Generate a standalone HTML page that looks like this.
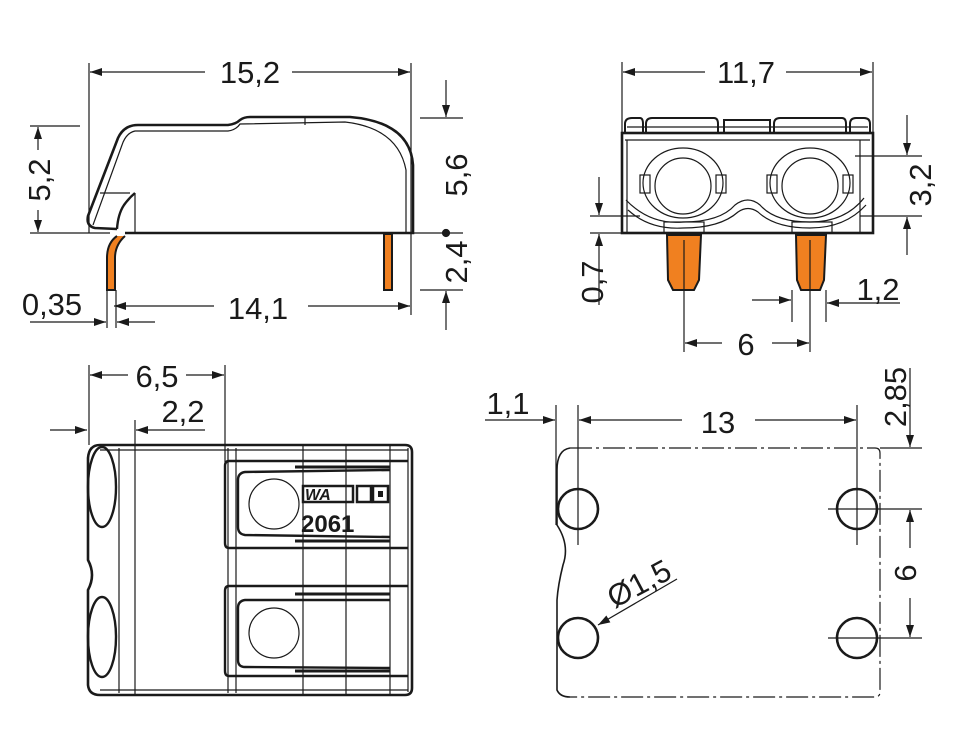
<!DOCTYPE html>
<html><head><meta charset="utf-8"><style>
html,body{margin:0;padding:0;background:#fff;}
svg{display:block}
text{font-family:"Liberation Sans",sans-serif;font-size:31px;fill:#1a1a1a}
</style></head><body>
<svg width="960" height="748" viewBox="0 0 960 748" xmlns="http://www.w3.org/2000/svg">
<defs>
<marker id="a" viewBox="0 0 12 8" refX="12" refY="4" markerWidth="13" markerHeight="8" markerUnits="userSpaceOnUse" orient="auto"><path d="M0,0 L12,4 L0,8z" fill="#1a1a1a"/></marker>
</defs>
<g stroke="#1a1a1a" stroke-width="1.2" fill="none">
<!-- ===== Top-left side view ===== -->
<line x1="89" y1="63" x2="89" y2="233"/><line x1="411" y1="63" x2="411" y2="315"/>
<line x1="205" y1="72" x2="90" y2="72" marker-end="url(#a)"/><line x1="292" y1="72" x2="410" y2="72" marker-end="url(#a)"/>
<line x1="30" y1="126" x2="80" y2="126"/><line x1="30" y1="233" x2="110" y2="233"/>
<line x1="38" y1="150" x2="38" y2="127" marker-end="url(#a)"/><line x1="38" y1="210" x2="38" y2="232" marker-end="url(#a)"/>
<line x1="420" y1="118" x2="463" y2="118"/><line x1="420" y1="290" x2="463" y2="290"/>
<line x1="446" y1="80" x2="446" y2="117" marker-end="url(#a)"/><line x1="446" y1="330" x2="446" y2="291" marker-end="url(#a)"/>
<line x1="413" y1="233" x2="463" y2="233"/>
<line x1="214" y1="306" x2="114" y2="306" marker-end="url(#a)"/><line x1="308" y1="306" x2="410" y2="306" marker-end="url(#a)"/>
<line x1="107" y1="290" x2="107" y2="328"/><line x1="116" y1="290" x2="116" y2="328"/>
<line x1="30" y1="322" x2="106" y2="322" marker-end="url(#a)"/><line x1="155" y1="322" x2="117" y2="322" marker-end="url(#a)"/>
<path d="M117,229 L95,228 Q86,226 88,216 L118,138 Q124,125 138,125 L228,125 Q236,124 240,120 Q244,117 250,117 L350,117 Q410,122 413,165 L413,233 L125,233" stroke-width="2.6"/>
<path d="M117,229 Q118,214 124,205 Q129,198 135,193" stroke-width="2.4"/>
<line x1="135" y1="193" x2="135" y2="233"/>
<path d="M93,225 L122,145 Q126,133 135,131 L228,131 Q236,130 240,124 L345,122 Q398,128 406,170 L406,232"/>
<line x1="100" y1="193" x2="130" y2="193"/>
<line x1="305" y1="118" x2="305" y2="125"/>
<path d="M117,236 Q107,243 107,258 L107,290 L115,290 L115,258 Q115,245 125,236" fill="#f08020" stroke-width="2"/>
<rect x="384" y="234" width="8" height="56" fill="#f08020" stroke-width="2"/>
<circle cx="446" cy="233" r="3.5" fill="#1a1a1a"/>

<!-- ===== Top-right front view ===== -->
<line x1="622" y1="62" x2="622" y2="133"/><line x1="873" y1="62" x2="873" y2="133"/>
<line x1="705" y1="72" x2="623" y2="72" marker-end="url(#a)"/><line x1="786" y1="72" x2="872" y2="72" marker-end="url(#a)"/>
<rect x="622" y="133" width="251" height="100" stroke-width="2.6"/>
<path d="M625,133 L625,124 Q625,118 632,118 L640,118 Q643,118 643,124 L643,133" stroke-width="2"/>
<path d="M646,133 L646,124 Q646,118 652,118 L714,118 Q718,118 718,124 L718,133" stroke-width="2"/>
<path d="M724,133 L724,120 L770,120 L770,133" stroke-width="2"/>
<path d="M774,133 L774,124 Q774,118 780,118 L842,118 Q846,118 846,124 L846,133" stroke-width="2"/>
<path d="M850,133 L850,124 Q850,118 856,118 L864,118 Q870,118 870,124 L870,133" stroke-width="2"/>
<line x1="627" y1="127" x2="868" y2="127"/>
<line x1="625" y1="140" x2="870" y2="140"/>
<line x1="627" y1="140" x2="627" y2="233"/><line x1="860" y1="140" x2="860" y2="233"/>
<circle cx="683" cy="186" r="28"/><ellipse cx="683" cy="183" rx="40" ry="35"/>
<circle cx="810" cy="186" r="28"/><ellipse cx="810" cy="183" rx="40" ry="35"/>
<path d="M626,200 Q650,225 683,222 Q720,222 735,205 Q748,195 760,205 Q775,222 810,222 Q845,222 864,198"/>
<path d="M628,210 Q650,230 683,228 Q720,228 738,212 Q748,205 758,212 Q775,228 810,228 Q845,228 866,205"/>
<rect x="640" y="175" width="10" height="18"/><rect x="716" y="175" width="10" height="18"/>
<rect x="767" y="175" width="10" height="18"/><rect x="843" y="175" width="10" height="18"/>
<rect x="664" y="222" width="40" height="11"/><rect x="792" y="222" width="40" height="11"/>
<path d="M667,235 L701,235 L699,280 L694,290 L673,290 L668,280 Z" fill="#f08020" stroke-width="2"/>
<path d="M796,235 L826,235 L824,280 L820,290 L801,290 L797,280 Z" fill="#f08020" stroke-width="2"/>
<line x1="684" y1="240" x2="684" y2="352"/><line x1="810" y1="240" x2="810" y2="352"/>
<line x1="722" y1="343" x2="685" y2="343" marker-end="url(#a)"/><line x1="772" y1="343" x2="809" y2="343" marker-end="url(#a)"/>
<line x1="792" y1="290" x2="792" y2="322"/><line x1="826" y1="290" x2="826" y2="322"/>
<line x1="752" y1="300" x2="791" y2="300" marker-end="url(#a)"/><line x1="900" y1="303" x2="827" y2="303" marker-end="url(#a)"/>
<line x1="855" y1="156" x2="922" y2="156"/><line x1="860" y1="216" x2="922" y2="216"/>
<line x1="907" y1="115" x2="907" y2="155" marker-end="url(#a)"/><line x1="907" y1="255" x2="907" y2="217" marker-end="url(#a)"/>
<line x1="590" y1="216" x2="640" y2="216"/><line x1="590" y1="233" x2="622" y2="233"/>
<line x1="599" y1="177" x2="599" y2="215" marker-end="url(#a)"/><line x1="599" y1="305" x2="599" y2="234" marker-end="url(#a)"/>

<!-- ===== Bottom-left top view ===== -->
<line x1="89" y1="365" x2="89" y2="445"/><line x1="225" y1="365" x2="225" y2="462"/>
<line x1="128" y1="375" x2="90" y2="375" marker-end="url(#a)"/><line x1="186" y1="375" x2="224" y2="375" marker-end="url(#a)"/>
<line x1="50" y1="430" x2="87" y2="430" marker-end="url(#a)"/><line x1="205" y1="430" x2="136" y2="430" marker-end="url(#a)"/>
<path d="M100,445 L405,445 Q412,445 412,452 L412,688 Q412,695 405,695 L100,695 Q89,695 88,685 L88,590 Q96,575 88,560 L88,458 Q89,445 100,445 Z" stroke-width="2.6"/>
<line x1="100" y1="450" x2="408" y2="450"/><line x1="100" y1="690" x2="408" y2="690"/>
<line x1="119" y1="448" x2="119" y2="693"/><line x1="135" y1="420" x2="135" y2="695"/>
<line x1="228" y1="448" x2="228" y2="693"/><line x1="236" y1="448" x2="236" y2="693"/>
<ellipse cx="102" cy="487" rx="14" ry="40" stroke-width="2.4"/>
<ellipse cx="102" cy="637" rx="14" ry="40" stroke-width="2.4"/>
<path d="M408,461 L229,461 Q225,461 225,466 L225,543 Q225,548 229,548 L408,548" stroke-width="2.4"/>
<path d="M408,586 L229,586 Q225,586 225,591 L225,671 Q225,676 229,676 L408,676" stroke-width="2.4"/>
<path d="M390,470 L245,472 Q238,473 238,480 L238,527 Q238,534 245,535 L390,537" stroke-width="2.4"/>
<path d="M390,600 L245,600 Q238,601 238,608 L238,660 Q238,667 245,667 L390,668" stroke-width="2.4"/>
<line x1="295" y1="467" x2="390" y2="467" stroke-width="3"/><line x1="295" y1="541" x2="390" y2="541" stroke-width="3"/>
<line x1="295" y1="594" x2="390" y2="594" stroke-width="3"/><line x1="295" y1="671" x2="390" y2="671" stroke-width="3"/>
<line x1="303" y1="445" x2="303" y2="695"/><line x1="346" y1="445" x2="346" y2="695"/><line x1="390" y1="445" x2="390" y2="695"/>
<circle cx="274" cy="504" r="25"/><circle cx="274" cy="633" r="25"/>
<rect x="303" y="486" width="50" height="16" stroke-width="2.5"/>
<rect x="357" y="486" width="14" height="16" stroke-width="2.5"/>
<rect x="373" y="486" width="15" height="16" stroke-width="2.5"/>
<rect x="378" y="491" width="5" height="6" fill="#1a1a1a" stroke="none"/>
<line x1="408" y1="448" x2="408" y2="692"/>

<!-- ===== Bottom-right footprint ===== -->
<line x1="556" y1="405" x2="556" y2="525"/><line x1="578" y1="405" x2="578" y2="545"/><line x1="857" y1="405" x2="857" y2="545"/>
<line x1="485" y1="420" x2="555" y2="420" marker-end="url(#a)"/>
<line x1="682" y1="420" x2="579" y2="420" marker-end="url(#a)"/><line x1="755" y1="420" x2="856" y2="420" marker-end="url(#a)"/>
<path d="M570,448 L875,448 Q880,448 880,453 L880,692 Q880,697 875,697 L570,697" stroke-dasharray="22,4,3,4"/>
<path d="M570,448 Q557,450 557,470 L557,525 Q570,545 563,565 Q558,585 557,600 L557,690 Q560,697 570,697" stroke-width="1.6"/>
<circle cx="578" cy="509" r="20" stroke-width="2.6"/><circle cx="857" cy="509" r="20" stroke-width="2.6"/>
<circle cx="578" cy="638" r="20" stroke-width="2.6"/><circle cx="857" cy="638" r="20" stroke-width="2.6"/>
<line x1="828" y1="509" x2="922" y2="509"/><line x1="828" y1="638" x2="922" y2="638"/>
<line x1="880" y1="448" x2="922" y2="448"/>
<line x1="910" y1="368" x2="910" y2="447" marker-end="url(#a)"/>
<line x1="910" y1="548" x2="910" y2="510" marker-end="url(#a)"/><line x1="910" y1="598" x2="910" y2="637" marker-end="url(#a)"/>
<line x1="677" y1="579" x2="598" y2="625" marker-end="url(#a)"/>
</g>
<g>
<text x="250" y="83" text-anchor="middle">15,2</text>
<text x="258" y="319" text-anchor="middle">14,1</text>
<text x="52" y="315" text-anchor="middle">0,35</text>
<text transform="translate(50,180) rotate(-90)" text-anchor="middle">5,2</text>
<text transform="translate(467,175) rotate(-90)" text-anchor="middle">5,6</text>
<text transform="translate(467,262) rotate(-90)" text-anchor="middle">2,4</text>
<text x="746" y="83" text-anchor="middle">11,7</text>
<text x="746" y="355" text-anchor="middle">6</text>
<text x="878" y="300" text-anchor="middle">1,2</text>
<text transform="translate(931,185) rotate(-90)" text-anchor="middle">3,2</text>
<text transform="translate(603,282) rotate(-90)" text-anchor="middle">0,7</text>
<text x="157" y="387" text-anchor="middle">6,5</text>
<text x="183" y="422" text-anchor="middle">2,2</text>
<text x="508" y="414" text-anchor="middle">1,1</text>
<text x="718" y="433" text-anchor="middle">13</text>
<text transform="translate(906,397) rotate(-90)" text-anchor="middle">2,85</text>
<text transform="translate(916,573) rotate(-90)" text-anchor="middle">6</text>
<text transform="translate(644,593) rotate(-28)" text-anchor="middle">Ø1,5</text>
<text x="305" y="500" style="font-size:16px;font-weight:bold;font-style:italic">WA</text>
<text x="301" y="532" style="font-size:24px;font-weight:bold">2061</text>
</g>
</svg>
</body></html>
